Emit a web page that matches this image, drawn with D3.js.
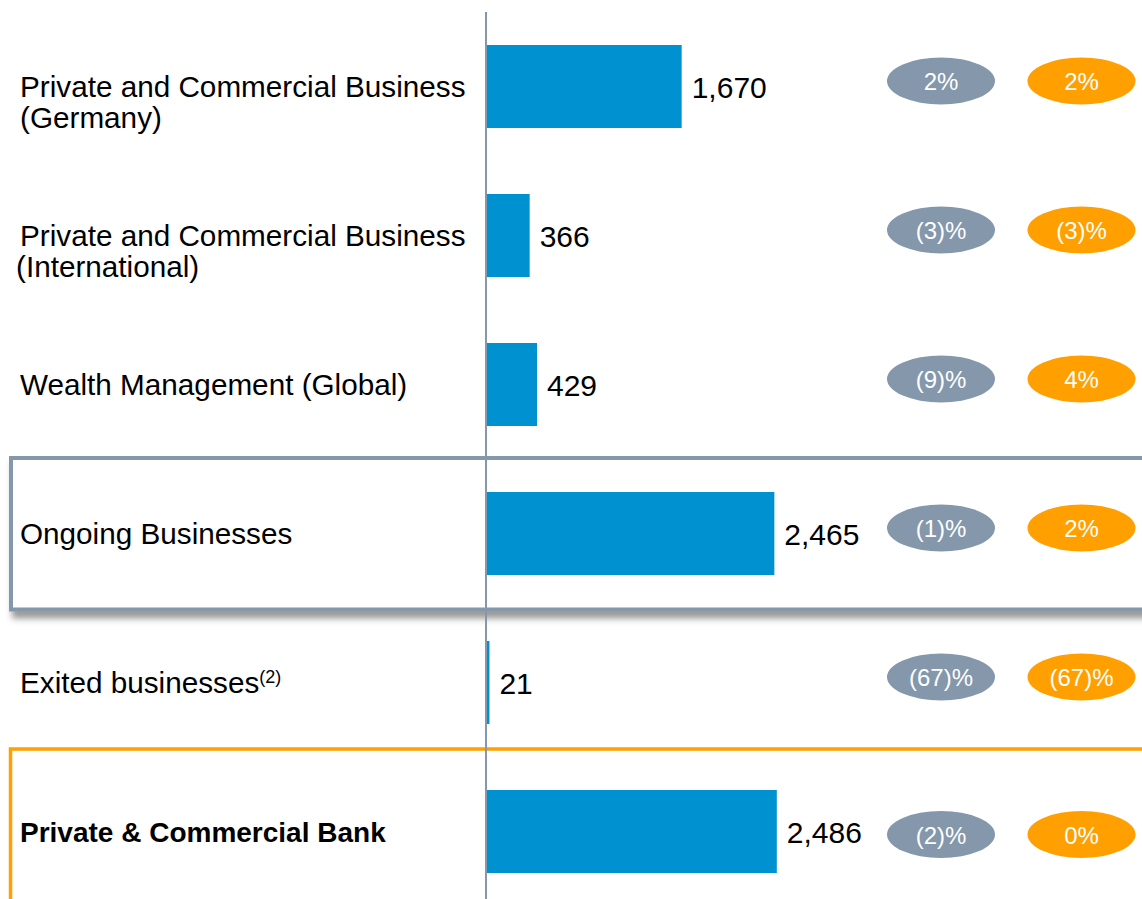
<!DOCTYPE html>
<html>
	<head>
		<title>PCB revenues</title>
		<script src="https://d3js.org/d3.v7.min.js"></script>
		<style>
			body { margin: 0; background: #fff; }
			text { font-family: "Liberation Sans", Arial, sans-serif; }
			.bar { fill: #0091d1; }
			.label { font-size: 29.7px; fill: #000; }
			.label.total { font-weight: bold; font-size: 28px; }
			.value { font-size: 30px; fill: #000; }
			.pct { font-size: 24px; fill: #fff; text-anchor: middle; }
		</style>
	</head>
	<body>
		<svg width="1142" height="899"></svg>

		<script type="text/javascript">
			// segments, top to bottom
			var categories = [
				"Private and Commercial Business\n(Germany)",
				"Private and Commercial Business\n(International)",
				"Wealth Management (Global)",
				"Ongoing Businesses",
				"Exited businesses",
				"Private & Commercial Bank"
			];
			var footnotes = ["", "", "", "", "(2)", ""];
			var revenues = [1670, 366, 429, 2465, 21, 2486];
			var changeGrey = [2, -3, -9, -1, -67, -2];
			var changeOrange = [2, -3, 4, 2, -67, 0];

			var grey = "#8497ab";
			var orange = "#ffa000";

			var svg = d3.select("svg");

			var defs = svg.append("defs");
			var f = defs.append("filter").attr("id", "shadow")
				.attr("x", "-5%").attr("y", "-20%").attr("width", "115%").attr("height", "150%");
			f.append("feDropShadow")
				.attr("dx", 3).attr("dy", 7).attr("stdDeviation", 3)
				.attr("flood-color", "#444").attr("flood-opacity", 0.55);

			var x = d3.scaleLinear()
				.domain([0, 2486])
				.range([487, 776.8]);

			var y = d3.scalePoint()
				.domain(categories)
				.range([86.5, 831.5]);

			var barH = 83;

			// highlight boxes
			svg.append("rect")
				.attr("x", 11).attr("y", 458)
				.attr("width", 1200).attr("height", 151.5)
				.attr("fill", "#fff")
				.attr("stroke", grey).attr("stroke-width", 4)
				.attr("filter", "url(#shadow)");

			svg.append("rect")
				.attr("x", 10.5).attr("y", 749)
				.attr("width", 1200).attr("height", 300)
				.attr("fill", "none")
				.attr("stroke", orange).attr("stroke-width", 3.5);

			// vertical axis line
			svg.append("line")
				.attr("x1", 486).attr("x2", 486)
				.attr("y1", 12).attr("y2", 899)
				.attr("stroke", grey).attr("stroke-width", 2);

			var rows = categories.map(function(c, i) {
				return {
					cat: c,
					lines: c.split("\n"),
					note: footnotes[i],
					value: revenues[i],
					g: changeGrey[i],
					o: changeOrange[i],
					total: i === categories.length - 1,
					i: i
				};
			});

			svg.append("g").selectAll("rect.bar")
				.data(rows)
				.enter()
				.append("rect")
				.classed("bar", true)
				.attr("x", x(0))
				.attr("y", function(d) { return y(d.cat) - barH / 2; })
				.attr("width", function(d) { return x(d.value) - x(0); })
				.attr("height", barH);

			var fmt = d3.format(",");
			svg.append("g").selectAll("text.value")
				.data(rows)
				.enter()
				.append("text")
				.classed("value", true)
				.attr("x", function(d) { return x(d.value) + 10; })
				.attr("y", function(d) { return y(d.cat) + 11; })
				.text(function(d) { return fmt(d.value); });

			// category labels
			var labels = svg.append("g").selectAll("text.label")
				.data(rows)
				.enter()
				.append("text")
				.attr("class", function(d) { return d.total ? "label total" : "label"; })
				.attr("y", function(d) { return y(d.cat) + 10.5; });

			labels.each(function(d) {
				var t = d3.select(this);
				d.lines.forEach(function(line, k) {
					t.append("tspan")
						.attr("x", k === 1 && d.i === 1 ? 16 : 20)
						.attr("dy", k === 0 ? 0 : 31)
						.text(line);
				});
				if (d.note) {
					t.append("tspan")
						.attr("dy", -10)
						.style("font-size", "18px")
						.text(d.note);
				}
			});

			// change ovals
			function pct(v) {
				return v < 0 ? "(" + Math.abs(v) + ")%" : v + "%";
			}
			var ovals = [
				{ key: "g", cx: 941, color: grey },
				{ key: "o", cx: 1081.5, color: orange }
			];
			ovals.forEach(function(ov) {
				var gg = svg.append("g").selectAll("g")
					.data(rows)
					.enter()
					.append("g")
					.attr("transform", function(d) {
						var cy = y(d.cat) + (d.total ? 3 : -5.5);
						return "translate(" + ov.cx + "," + cy + ")";
					});
				gg.append("ellipse")
					.attr("rx", 54).attr("ry", 23.5)
					.attr("fill", ov.color);
				gg.append("text")
					.classed("pct", true)
					.attr("y", 9)
					.text(function(d) { return pct(d[ov.key]); });
			});
		</script>
	</body>
</html>
